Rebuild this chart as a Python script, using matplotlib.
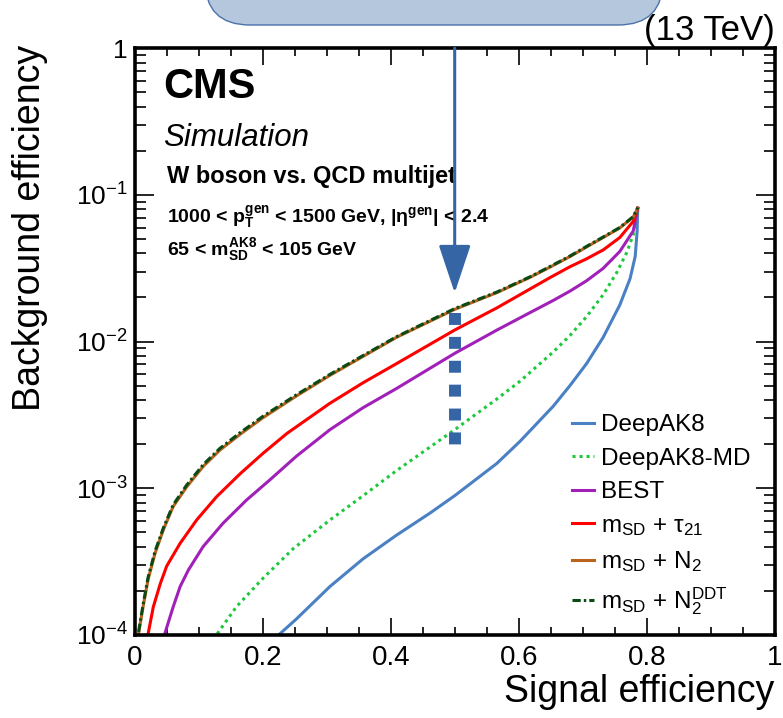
import matplotlib
matplotlib.use("Agg")
import matplotlib.pyplot as plt
from matplotlib.patches import FancyBboxPatch
from matplotlib.transforms import IdentityTransform
from matplotlib.ticker import FixedLocator, FixedFormatter, MultipleLocator, LogLocator

plt.rcParams["font.family"] = ["Liberation Sans", "DejaVu Sans"]
plt.rcParams["mathtext.fontset"] = "custom"
plt.rcParams["mathtext.rm"] = "Liberation Sans"
plt.rcParams["mathtext.it"] = "Liberation Sans:italic"
plt.rcParams["mathtext.bf"] = "Liberation Sans:bold"

# -----------------------------
# data
# -----------------------------
x_deepak8 = [0.227, 0.253, 0.305, 0.357, 0.409, 0.461, 0.500, 0.566, 0.602, 0.654,
             0.680, 0.706, 0.732, 0.758, 0.774, 0.782, 0.785, 0.786]
y_deepak8 = [1.02e-4, 1.29e-4, 2.14e-4, 3.31e-4, 4.79e-4, 6.76e-4, 8.91e-4, 1.48e-3, 2.09e-3, 3.63e-3,
             5.01e-3, 7.08e-3, 1.07e-2, 1.78e-2, 2.69e-2, 3.80e-2, 5.62e-2, 8.13e-2]

x_deepak8_md = [0.129, 0.159, 0.201, 0.248, 0.305, 0.357, 0.409, 0.500, 0.566, 0.602,
                0.654, 0.680, 0.706, 0.732, 0.753, 0.769, 0.779, 0.786]
y_deepak8_md = [1.02e-4, 1.56e-4, 2.45e-4, 3.89e-4, 6.08e-4, 8.91e-4, 1.32e-3, 2.51e-3, 4.07e-3, 5.37e-3,
                8.51e-3, 1.10e-2, 1.48e-2, 2.09e-2, 2.95e-2, 4.07e-2, 5.37e-2, 8.13e-2]

x_best = [0.047, 0.060, 0.071, 0.084, 0.107, 0.138, 0.175, 0.211, 0.253, 0.305, 0.357,
          0.409, 0.500, 0.566, 0.618, 0.654, 0.680, 0.706, 0.732, 0.758, 0.779, 0.786]
y_best = [1.02e-4, 1.55e-4, 2.14e-4, 2.78e-4, 4.01e-4, 5.78e-4, 8.34e-4, 1.14e-3, 1.66e-3, 2.51e-3, 3.55e-3,
          4.79e-3, 8.32e-3, 1.20e-2, 1.58e-2, 1.91e-2, 2.21e-2, 2.60e-2, 3.16e-2, 4.12e-2, 5.69e-2, 8.13e-2]

x_tau21 = [0.021, 0.029, 0.040, 0.050, 0.071, 0.097, 0.128, 0.165, 0.201, 0.238, 0.305, 0.357,
           0.409, 0.500, 0.566, 0.618, 0.650, 0.680, 0.706, 0.732, 0.758, 0.779, 0.786]
y_tau21 = [1.02e-4, 1.55e-4, 2.24e-4, 2.95e-4, 4.22e-4, 6.10e-4, 8.77e-4, 1.26e-3, 1.74e-3, 2.37e-3, 3.80e-3, 5.25e-3,
           7.08e-3, 1.20e-2, 1.70e-2, 2.29e-2, 2.75e-2, 3.24e-2, 3.67e-2, 4.22e-2, 5.13e-2, 6.61e-2, 8.13e-2]

x_n2 = [0.006, 0.013, 0.021, 0.032, 0.045, 0.060, 0.081, 0.107, 0.133, 0.165, 0.200, 0.253, 0.305,
        0.357, 0.409, 0.500, 0.566, 0.618, 0.650, 0.680, 0.706, 0.732, 0.758, 0.779, 0.786]
y_n2 = [1.02e-4, 1.55e-4, 2.40e-4, 3.63e-4, 5.25e-4, 7.50e-4, 1.02e-3, 1.41e-3, 1.82e-3, 2.34e-3, 3.02e-3, 4.27e-3, 5.89e-3,
        7.94e-3, 1.07e-2, 1.66e-2, 2.16e-2, 2.75e-2, 3.24e-2, 3.80e-2, 4.42e-2, 5.13e-2, 5.96e-2, 7.08e-2, 8.13e-2]

x_n2ddt = x_n2
y_n2ddt = [1.05e-4, 1.60e-4, 2.48e-4, 3.75e-4, 5.40e-4, 7.70e-4, 1.05e-3, 1.45e-3, 1.87e-3, 2.40e-3, 3.09e-3, 4.35e-3, 5.98e-3,
           8.05e-3, 1.08e-2, 1.68e-2, 2.18e-2, 2.77e-2, 3.27e-2, 3.83e-2, 4.46e-2, 5.17e-2, 6.00e-2, 7.12e-2, 8.20e-2]

labels = ["DeepAK8", "DeepAK8-MD", "BEST",
          r"m$_\mathregular{SD}$ + τ$_\mathregular{21}$",
          r"m$_\mathregular{SD}$ + N$_\mathregular{2}$",
          r"m$_\mathregular{SD}$ + N$_\mathregular{2}^\mathregular{DDT}$"]

x_ticks = [0, 0.2, 0.4, 0.6, 0.8, 1.0]
x_ticklabels = ["0", "0.2", "0.4", "0.6", "0.8", "1"]
y_ticks = [1e-4, 1e-3, 1e-2, 1e-1, 1]
y_ticklabels = [r"$10^{-4}$", r"$10^{-3}$", r"$10^{-2}$", r"$10^{-1}$", "1"]

# annotation overlay: arrow and dotted marker at signal efficiency 0.5
marker_x = 0.5
arrow_tip = 0.0215
marker_top = 0.0157
marker_bottom = 0.00195

# -----------------------------
# plot
# -----------------------------
fig = plt.figure(figsize=(7.83, 7.18), dpi=100)
ax = fig.add_axes([134.7 / 783, 83 / 718, 640 / 783, 586.7 / 718])

lw = 2.2
ax.plot(x_deepak8, y_deepak8, color="#4a80c4", lw=lw, label=labels[0])
ax.plot(x_deepak8_md, y_deepak8_md, color="#1ec83c", lw=lw, ls=(0, (1, 1.3)), label=labels[1])
ax.plot(x_best, y_best, color="#a020b8", lw=lw, label=labels[2])
ax.plot(x_tau21, y_tau21, color="#ff0000", lw=lw, label=labels[3])
ax.plot(x_n2, y_n2, color="#b8641e", lw=lw, label=labels[4])
ax.plot(x_n2ddt, y_n2ddt, color="#0b4a14", lw=lw, ls=(0, (2.7, 1, 0.8, 1)), label=labels[5])

ax.set_yscale("log")
ax.set_xlim(0, 1)
ax.set_ylim(1e-4, 1)

ax.xaxis.set_major_locator(FixedLocator(x_ticks))
ax.xaxis.set_major_formatter(FixedFormatter(x_ticklabels))
ax.xaxis.set_minor_locator(MultipleLocator(0.05))
ax.yaxis.set_major_locator(FixedLocator(y_ticks))
ax.yaxis.set_major_formatter(FixedFormatter(y_ticklabels))
ax.yaxis.set_minor_locator(LogLocator(base=10, subs=range(2, 10)))

ax.tick_params(which="both", direction="in", top=True, right=True, width=1.2)
ax.tick_params(axis="x", which="major", length=12, labelsize=20, pad=7)
ax.tick_params(axis="x", which="minor", length=6)
ax.tick_params(axis="y", which="major", length=14, labelsize=19, pad=5)
ax.tick_params(axis="y", which="minor", length=8)
for s in ax.spines.values():
    s.set_linewidth(2.6)

ax.set_xlabel("Signal efficiency", fontsize=27, loc="right")
ax.xaxis.set_label_coords(1.0, -0.097)
ax.xaxis.label.set_va("center")
ax.set_ylabel("Background efficiency", fontsize=27, loc="top")
ax.yaxis.set_label_coords(-0.1636, 1.005)
ax.yaxis.label.set_va("center")

# CMS labels
ax.text(0.044, 0.915, "CMS", transform=ax.transAxes, fontsize=30, fontweight="bold", va="baseline")
ax.text(0.044, 0.8335, "Simulation", transform=ax.transAxes, fontsize=22.5, style="italic", va="baseline")
ax.text(0.0505, 0.770, "W boson vs. QCD multijet", transform=ax.transAxes, fontsize=17,
        fontweight="bold", va="baseline")
ax.text(0.0505, 0.702,
        r"1000 < p$_\mathregular{T}^\mathregular{gen}$ < 1500 GeV, |η$^\mathregular{gen}$| < 2.4",
        transform=ax.transAxes, fontsize=14, fontweight="bold", va="baseline")
ax.text(0.0505, 0.648, r"65 < m$_\mathregular{SD}^\mathregular{AK8}$ < 105 GeV",
        transform=ax.transAxes, fontsize=14, fontweight="bold", va="baseline")

ax.legend(loc="upper left", bbox_to_anchor=(0.683, 0.376), frameon=False, fontsize=17.5,
          handlelength=0.9, handletextpad=0.3, labelspacing=0.47, borderpad=0, borderaxespad=0)

# overlay: arrow + dotted marker
mark_color = "#3565a5"
ax.annotate("", xy=(marker_x, arrow_tip), xytext=(marker_x, 1.0),
            arrowprops=dict(arrowstyle="-|>,head_length=3.0,head_width=1.0", color=mark_color,
                            lw=2.2, shrinkA=0, shrinkB=0, mutation_scale=10), zorder=6)
ax.plot([marker_x, marker_x], [marker_top, marker_bottom], color=mark_color, lw=8.6,
        ls=(0, (1, 1)), dash_capstyle="butt", zorder=6)

# rounded box at the top
box = FancyBboxPatch((205, 693), 458, 120, boxstyle="round,pad=0,rounding_size=45",
                     transform=IdentityTransform(), facecolor="#b4c7dd", edgecolor="#4a72aa",
                     lw=1.0, zorder=1)
fig.patches.append(box)
fig.text(775 / 783, 1 - 40 / 718, "(13 TeV)", fontsize=25, ha="right", va="baseline", zorder=3)

fig.savefig("out.png", dpi=100)
